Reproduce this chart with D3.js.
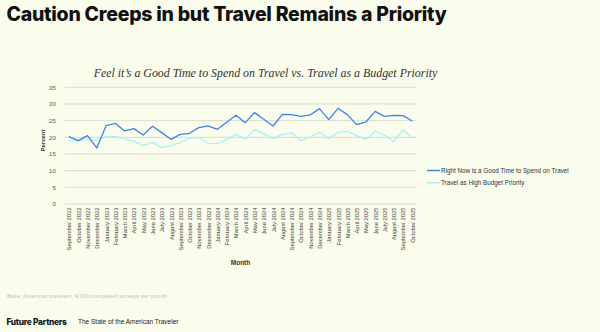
<!DOCTYPE html>
<html><head><meta charset="utf-8">
<script src="https://cdn.jsdelivr.net/npm/d3@7"></script>
<style>
html,body{margin:0;padding:0;background:#FAFCEC;}
svg{display:block;}
</style></head>
<body>
<svg id="chart" width="600" height="332"></svg>
<script>
const months = ["September 2022","October 2022","November 2022","December 2022",
"January 2023","February 2023","March 2023","April 2023","May 2023","June 2023","July 2023","August 2023","September 2023","October 2023","November 2023","December 2023",
"January 2024","February 2024","March 2024","April 2024","May 2024","June 2024","July 2024","August 2024","September 2024","October 2024","November 2024","December 2024",
"January 2025","February 2025","March 2025","April 2025","May 2025","June 2025","July 2025","August 2025","September 2025","October 2025"];
const goodTime = [20.2,19.0,20.5,16.8,23.5,24.2,21.9,22.6,20.7,23.3,21.4,19.4,20.9,21.2,22.9,23.4,22.4,24.5,26.6,24.4,27.4,25.4,23.4,26.9,26.8,26.3,26.7,28.6,25.3,28.7,26.8,23.8,24.6,27.8,26.3,26.6,26.5,24.9];
const budgetPriority = [19.1,18.9,19.4,19.2,20.2,20.2,19.5,18.8,17.6,18.5,16.9,17.5,18.4,19.8,20.0,18.2,18.1,19.4,20.9,19.5,22.3,21.1,19.6,20.9,21.3,19.0,20.1,21.5,19.6,21.5,21.8,20.5,19.4,21.8,20.6,18.7,22.2,19.9];
const seriesNames = ["Right Now is a Good Time to Spend on Travel","Travel as High Budget Priority"];
const seriesColors = ["#3D84EE","#A6F2F6"];
const yTicks = [0,5,10,15,20,25,30,35];

const svg = d3.select("#chart");
const m = {left:64.3, right:416.9, top:87.3, bottom:204};
const sans = "'Liberation Sans', Arial, sans-serif";

svg.append("text").attr("x",6.5).attr("y",20.5)
  .attr("font-family","Inter, 'Open Sans', sans-serif").attr("font-weight",800)
  .attr("font-size",19.5).attr("fill","#111").attr("letter-spacing",-0.25)
  .text("Caution Creeps in but Travel Remains a Priority");

svg.append("text").attr("x",265.5).attr("y",76.5).attr("text-anchor","middle")
  .attr("font-family","'Liberation Serif', 'DejaVu Serif', serif").attr("font-style","italic")
  .attr("font-size",11.9).attr("fill","#333")
  .text("Feel it\u2019s a Good Time to Spend on Travel vs. Travel as a Budget Priority");

const x = d3.scalePoint().domain(months).range([m.left, m.right]).padding(0.5);
const y = d3.scaleLinear().domain([0,35]).range([m.bottom, m.top]);

svg.append("g").selectAll("line").data(yTicks).join("line")
  .attr("x1",m.left).attr("x2",m.right)
  .attr("y1",d=>y(d)).attr("y2",d=>y(d))
  .attr("stroke","#DADBD2").attr("stroke-width",1);

const yAxis = svg.append("g").attr("transform",`translate(${m.left},0)`)
  .call(d3.axisLeft(y).tickValues(yTicks).tickSize(0).tickPadding(8.5));
yAxis.select(".domain").remove();
yAxis.selectAll("text").attr("font-family",sans).attr("font-size",6).attr("fill","#555");

svg.append("text").attr("transform",`translate(45,140.5) rotate(-90)`)
  .attr("text-anchor","middle").attr("font-family",sans)
  .attr("font-weight",700).attr("font-size",6).attr("fill","#333").text("Percent");

const xAxis = svg.append("g").attr("transform",`translate(0,${m.bottom})`)
  .call(d3.axisBottom(x).tickSize(0).tickPadding(0));
xAxis.select(".domain").remove();
xAxis.selectAll("text")
  .attr("font-family",sans).attr("font-size",5.8).attr("fill","#444")
  .attr("text-anchor","end").attr("dy",null).attr("y",0).attr("x",0)
  .attr("transform","translate(2,3.5) rotate(-90)");

svg.append("text").attr("x",240.5).attr("y",265).attr("text-anchor","middle")
  .attr("font-family",sans).attr("font-weight",700)
  .attr("font-size",6.5).attr("fill","#333").text("Month");

const line = d3.line().x((d,i)=>x(months[i])).y(d=>y(d));
svg.append("path").datum(budgetPriority).attr("d",line).attr("fill","none")
  .attr("stroke",seriesColors[1]).attr("stroke-width",1.3).attr("stroke-linejoin","round");
svg.append("path").datum(goodTime).attr("d",line).attr("fill","none")
  .attr("stroke",seriesColors[0]).attr("stroke-width",1.3).attr("stroke-linejoin","round");

const lg = svg.append("g");
seriesNames.forEach((n,i)=>{
  const ly = 170.5 + i*12.3;
  lg.append("line").attr("x1",427).attr("x2",440).attr("y1",ly).attr("y2",ly)
    .attr("stroke",seriesColors[i]).attr("stroke-width",1.5);
  lg.append("text").attr("x",441).attr("y",ly+2.2).attr("font-family",sans)
    .attr("font-size",6.3).attr("fill","#333").text(n);
});

svg.append("text").attr("x",7).attr("y",297.5).attr("font-family",sans)
  .attr("font-size",5.8).attr("fill","#C4C6BC").text("Base: American travelers, 4,000 completed surveys per month");

svg.append("text").attr("x",6.5).attr("y",324.8).attr("font-family","Inter, 'Liberation Sans', sans-serif")
  .attr("font-weight",800).attr("font-size",8.3).attr("fill","#111").attr("letter-spacing",-0.25).text("Future Partners");
svg.append("text").attr("x",78).attr("y",324.3).attr("font-family",sans)
  .attr("font-size",6.5).attr("fill","#222").text("The State of the American Traveler");
</script>
</body></html>
